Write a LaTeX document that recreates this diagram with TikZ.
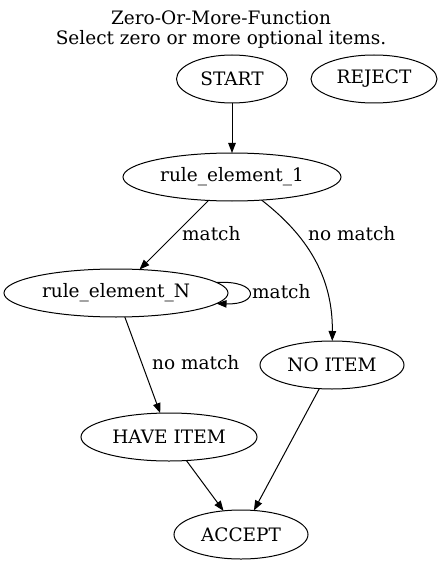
\documentclass[tikz,border=0pt]{standalone}
\usepackage{fontspec}
\setmainfont{DejaVu Serif}
\usetikzlibrary{arrows.meta,shapes.geometric}
\begin{document}
\begin{tikzpicture}[x=1pt,y=-1pt,
  every node/.style={font=\fontsize{18.5}{20}\selectfont},
  st/.style={ellipse,draw,line width=1pt,inner sep=0pt,outer sep=0pt},
  ed/.style={line width=1pt,-{Triangle[length=10pt,width=7.5pt]}},
  lbl/.style={anchor=west,inner sep=0pt}]
\useasboundingbox (0,0) rectangle (444,564);
\node[align=center,inner sep=0pt] (title) at (221,30) {Zero-Or-More-Function\\Select zero or more optional items.};
\node[st,minimum width=111pt,minimum height=48pt] (start) at (232,79) {START};
\node[st,minimum width=126pt,minimum height=48pt] (reject) at (374,79) {REJECT};
\node[st,minimum width=218pt,minimum height=48pt] (re1) at (232,177) {rule\_element\_1};
\node[st,minimum width=224pt,minimum height=48pt] (reN) at (116,293) {rule\_element\_N};
\node[st,minimum width=144pt,minimum height=48pt] (noitem) at (332,365) {NO ITEM};
\node[st,minimum width=176pt,minimum height=48pt] (have) at (169,437) {HAVE ITEM};
\node[st,minimum width=134pt,minimum height=49pt] (accept) at (241,534.5) {ACCEPT};
\draw[ed] (start) -- (re1);
\draw[ed] (re1) -- (reN);
\draw[ed] (re1) .. controls (300,230) and (333,270) .. (noitem);
\draw[ed] (reN.6) .. controls (260,280) and (260,305) .. (reN.-6);
\draw[ed] (reN) -- (have);
\draw[ed] (have) -- (accept);
\draw[ed] (noitem) -- (accept);
\node[lbl] (l1) at (182,234) {match};
\node[lbl] (l2) at (308,234) {no match};
\node[lbl] (l3) at (252,292) {match};
\node[lbl] (l4) at (152,363) {no match};
\end{tikzpicture}
\end{document}
